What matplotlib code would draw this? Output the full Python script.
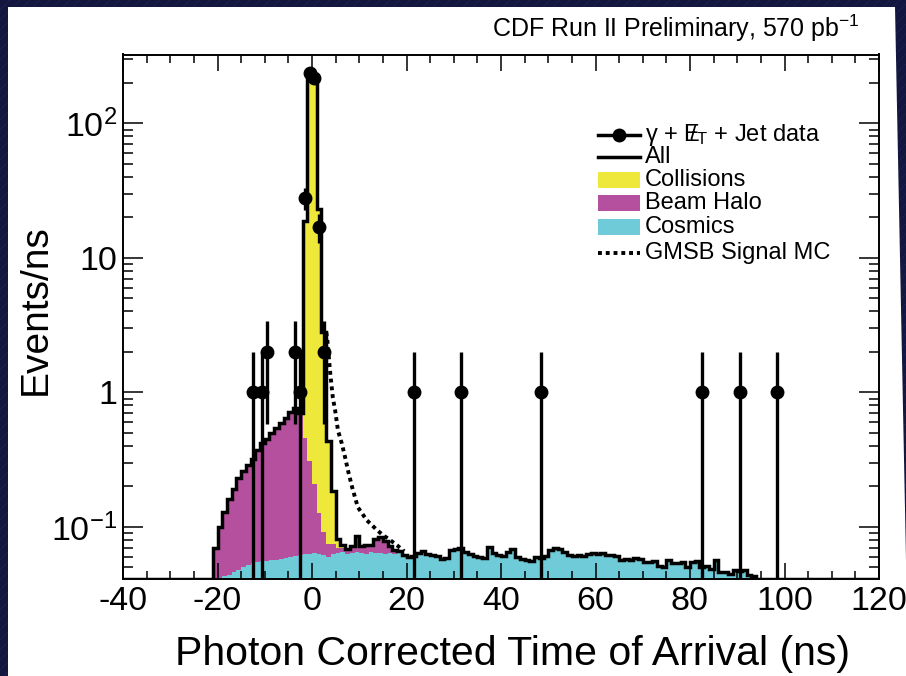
import matplotlib.pyplot as plt
import numpy as np
from matplotlib.lines import Line2D
from matplotlib.patches import Polygon, Rectangle
from matplotlib.ticker import LogLocator, MultipleLocator, NullFormatter

plt.rcParams["font.family"] = ["Liberation Sans", "DejaVu Sans"]
plt.rcParams["mathtext.fontset"] = "custom"
plt.rcParams["mathtext.rm"] = "Liberation Sans"
plt.rcParams["mathtext.it"] = "Liberation Sans:italic"
plt.rcParams["mathtext.bf"] = "Liberation Sans:bold"
plt.rcParams["axes.unicode_minus"] = False

# --- data, 1 ns bins ---
T_MIN, T_MAX = -40, 120
Y_MIN, Y_MAX = 0.041, 325.0

COSMICS_START = -21
COSMICS = [
    0.041, 0.042, 0.043, 0.044, 0.046, 0.048, 0.050, 0.052, 0.054, 0.055,
    0.056, 0.056, 0.057, 0.057, 0.058, 0.059, 0.060, 0.061, 0.062, 0.063,
    0.063, 0.064, 0.063, 0.062, 0.060, 0.063, 0.064, 0.065, 0.063, 0.064,
    0.065, 0.064, 0.063, 0.065, 0.064, 0.064, 0.063, 0.064, 0.063, 0.064,
    0.062, 0.060, 0.061, 0.064, 0.066, 0.063, 0.062, 0.061, 0.058, 0.059,
    0.067, 0.068, 0.070, 0.065, 0.063, 0.061, 0.060, 0.059, 0.071, 0.064,
    0.062, 0.061, 0.065, 0.069, 0.060, 0.058, 0.057, 0.056, 0.060, 0.059,
    0.061, 0.067, 0.070, 0.068, 0.065, 0.062, 0.061, 0.062, 0.061, 0.063,
    0.064, 0.063, 0.064, 0.062, 0.062, 0.061, 0.057, 0.058, 0.057, 0.059,
    0.058, 0.055, 0.055, 0.056, 0.051, 0.050, 0.057, 0.054, 0.054, 0.055,
    0.050, 0.055, 0.056, 0.050, 0.051, 0.049, 0.057, 0.046, 0.046, 0.045,
    0.048, 0.047, 0.048, 0.044, 0.043,
]

HALO_START = -21
BEAM_HALO = [
    0.029, 0.058, 0.087, 0.116, 0.144, 0.182, 0.210, 0.238, 0.266, 0.315,
    0.364, 0.394, 0.443, 0.483, 0.532, 0.591, 0.660, 0.699, 0.638, 0.397,
    0.247, 0.146, 0.063, 0.030, 0.015, 0.012, 0.006, 0.005, 0.006, 0.008,
    0.020, 0.008, 0.010, 0.008, 0.018, 0.020, 0.016, 0.008, 0.004, 0.002,
]

COLL_START = -2
COLLISIONS = [18.5, 230.0, 215.0, 23.0, 2.7, 0.36, 0.11, 0.012, 0.003]

DATA_T = [-12.5, -10.5, -9.5, -3.5, -2.5, -1.5, -0.5, 0.5, 1.5, 2.5,
          21.5, 31.5, 48.5, 82.5, 90.5, 98.5]
DATA_N = [1, 1, 2, 2, 1, 28, 235, 216, 17, 2, 1, 1, 1, 1, 1, 1]

GMSB_T = [3.0, 3.2, 3.8, 4.4, 4.9, 5.5, 6.3, 7.0, 7.6, 8.5, 9.1, 9.7,
          10.6, 11.6, 12.7, 13.7, 15.0, 16.5, 18.0, 19.5]
GMSB_V = [2.8, 2.56, 1.46, 0.92, 0.735, 0.52, 0.418, 0.33, 0.264, 0.197,
          0.166, 0.14, 0.126, 0.112, 0.103, 0.095, 0.087, 0.080, 0.073, 0.066]

C_COLL = "#eee83a"
C_HALO = "#b5509e"
C_COSM = "#6fcbd7"
C_BG = "#13173f"

W, H = 906, 676


def _on_grid(start, values, edges):
    out = np.zeros(len(edges) - 1)
    i0 = int(start - edges[0])
    out[i0:i0 + len(values)] = values
    return out


def _px(x, y):
    return x / W, 1 - y / H


def main() -> None:
    fig = plt.figure(figsize=(W / 100, H / 100), dpi=100)
    fig.patch.set_facecolor(C_BG)

    # striped slide background + white panel
    for c in range(-H, W, 10):
        fig.add_artist(Line2D([c / W, (c + H) / W], [0, 1], color="#2c3274",
                              lw=0.5, alpha=0.45, zorder=-2))
    panel = [_px(8, 7), _px(895, 7), _px(906, 560), _px(906, 676), _px(8, 676)]
    fig.add_artist(Polygon(panel, closed=True, facecolor="white",
                           edgecolor="none", zorder=-1))

    ax = fig.add_axes([123 / W, 1 - 579 / H, 756 / W, 524.5 / H])
    ax.set_facecolor("white")

    edges = np.arange(T_MIN, T_MAX + 1)
    cos = _on_grid(COSMICS_START, COSMICS, edges)
    halo = _on_grid(HALO_START, BEAM_HALO, edges)
    coll = _on_grid(COLL_START, COLLISIONS, edges)

    floor = 1e-3
    s0 = np.full(len(cos), floor)
    s1 = np.maximum(cos, floor)
    s2 = np.maximum(cos + halo, floor)
    s3 = np.maximum(cos + halo + coll, floor)

    ax.stairs(s1, edges, baseline=s0, fill=True, color=C_COSM, lw=0, zorder=1)
    ax.stairs(s2, edges, baseline=s1, fill=True, color=C_HALO, lw=0, zorder=1)
    ax.stairs(s3, edges, baseline=s2, fill=True, color=C_COLL, lw=0, zorder=1)

    total = np.maximum(cos + halo + coll, Y_MIN)
    ax.stairs(total, edges, color="black", lw=2.5, zorder=3)

    ax.plot(GMSB_T, GMSB_V, color="black", lw=2.8, ls=(0, (1, 1)), zorder=3)

    n = np.array(DATA_N, dtype=float)
    err = np.sqrt(n)
    lo = np.minimum(err, n - Y_MIN * 0.5)
    ax.errorbar(DATA_T, n, yerr=[lo, err], fmt="o", color="black", ms=9,
                elinewidth=2.4, capsize=0, zorder=5)

    ax.set_xlim(T_MIN, T_MAX)
    ax.set_yscale("log")
    ax.set_ylim(Y_MIN, Y_MAX)

    ax.set_xticks(np.arange(T_MIN, T_MAX + 1, 20))
    ax.xaxis.set_minor_locator(MultipleLocator(5))
    ax.set_yticks([0.1, 1, 10, 100], labels=["$10^{-1}$", "1", "10", "$10^{2}$"])
    ax.yaxis.set_minor_locator(LogLocator(base=10, subs=np.arange(2, 10)))
    ax.yaxis.set_minor_formatter(NullFormatter())

    ax.tick_params(which="both", direction="in", top=True, right=True,
                   width=1.1, labelsize=24.5)
    ax.tick_params(axis="x", which="major", length=11.5, pad=5)
    ax.tick_params(axis="x", which="minor", length=5.8)
    ax.tick_params(axis="y", which="major", length=14.4, pad=4)
    ax.tick_params(axis="y", which="minor", length=7.2)
    for sp in ax.spines.values():
        sp.set_linewidth(1.4)

    ax.set_xlabel("Photon Corrected Time of Arrival (ns)", fontsize=29.5)
    ax.xaxis.set_label_coords(0.5146, -0.143)
    ax.xaxis.label.set_verticalalignment("center")
    ax.set_ylabel("Events/ns", fontsize=28)
    ax.yaxis.set_label_coords(-0.115, 0.513)
    ax.yaxis.label.set_verticalalignment("center")

    fig.text(860 / W, 1 - 28 / H, "CDF Run II Preliminary, 570 pb$^{-1}$",
             ha="right", va="center", fontsize=18)

    # legend
    rows = [0.8465, 0.8046, 0.7607, 0.7169, 0.6711, 0.6216]
    hx0, hx1, tx = 0.628, 0.684, 0.690
    bh = 0.0318
    tr = ax.transAxes
    ax.plot([hx0, (hx0 + hx1) / 2, hx1], [rows[0]] * 3, transform=tr,
            color="black", lw=2.5, marker="o", ms=9, markevery=[1],
            clip_on=False, zorder=6)
    ax.plot([hx0, hx1], [rows[1]] * 2, transform=tr, color="black", lw=2.5,
            clip_on=False, zorder=6)
    for r, c in zip(rows[2:5], [C_COLL, C_HALO, C_COSM]):
        ax.add_patch(Rectangle((hx0, r - bh / 2), hx1 - hx0, bh, transform=tr,
                               facecolor=c, edgecolor="none", zorder=6))
    ax.plot([hx0, hx1], [rows[5]] * 2, transform=tr, color="black", lw=2.8,
            ls=(0, (1, 1)), clip_on=False, zorder=6)
    labels = [
        "\u03b3 + $\\mathrm{E}\\!\\!\\!/_{\\mathrm{T}}$ + Jet data",
        "All", "Collisions", "Beam Halo", "Cosmics", "GMSB Signal MC",
    ]
    for r, lab in zip(rows, labels):
        ax.text(tx, r, lab, transform=tr, ha="left", va="center",
                fontsize=17, zorder=6)

    fig.savefig("out.png", dpi=100, facecolor=fig.get_facecolor())
    plt.close(fig)


if __name__ == "__main__":
    main()
